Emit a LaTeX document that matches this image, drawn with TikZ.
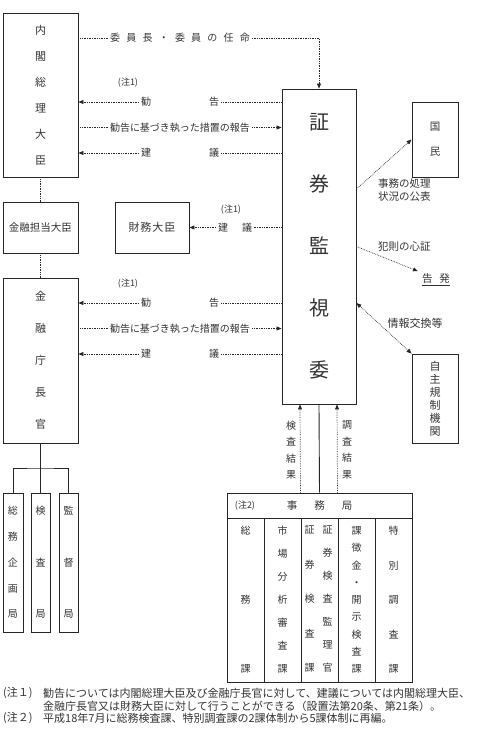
\documentclass[tikz,border=0pt]{standalone}
\usepackage{fontspec}
\setmainfont{Noto Sans CJK JP}
\usetikzlibrary{arrows.meta}
\colorlet{ink}{black!80}
\colorlet{edge}{black!85}
\newcommand\jg{\hspace{6.2pt}}
\tikzset{
  frame/.style={draw=edge,line width=0.9pt,inner sep=0pt,align=center,text=ink},
  word/.style={inner sep=2pt,text=ink,font=\fontsize{10}{12}\selectfont},
  memo/.style={inner sep=1pt,text=ink,font=\fontsize{9}{10}\selectfont},
  dotlink/.style={draw=edge,densely dotted,line width=0.7pt},
  tree/.style={draw=edge,line width=0.9pt},
  >={Triangle[length=5pt,width=4pt]},
}

\begin{document}
\begin{tikzpicture}[x=1pt,y=-1pt]
      \useasboundingbox (0,0) rectangle (479,732);
      \node [frame,minimum width=75pt,minimum height=164pt,font=\fontsize{11}{26}\selectfont] (pm) at (40.5,95) {内\\閣\\総\\理\\大\\臣};
      \node [frame,minimum width=75pt,minimum height=51pt,font=\fontsize{10.5}{12}\selectfont] (tantou) at (40.5,227.5) {金融担当大臣};
      \node [frame,minimum width=75pt,minimum height=165pt,font=\fontsize{11}{32}\selectfont] (chokan) at (40.5,360.5) {金\\融\\庁\\長\\官};
      \node [frame,minimum width=74pt,minimum height=51pt,font=\fontsize{11}{12}\selectfont] (zaimu) at (152,227.5) {財\hspace{1pt}務\hspace{1pt}大\hspace{1pt}臣};
      \node [frame,minimum width=74pt,minimum height=315pt,font=\fontsize{20}{62}\selectfont] (sec) at (319,246.5) {証\\券\\監\\視\\委};
      \node [frame,minimum width=46pt,minimum height=75pt,font=\fontsize{10.5}{25}\selectfont] (kokumin) at (435,139.5) {国\\民};
      \node [frame,minimum width=46pt,minimum height=89pt,font=\fontsize{11}{13}\selectfont] (jishu) at (435,398.5) {自\\主\\規\\制\\機\\関};
      \foreach \n/\x/\w/\s/\t in {soumu/13/20/25.75/総\\務\\企\\画\\局,kensa/40.5/19/51.5/検\\査\\局,kantoku/68.5/19/51.5/監\\督\\局}
      {
        \node [frame,minimum width=\w,minimum height=139pt,font=\fontsize{10}{\s}\selectfont] (\n) at (\x,562.5) {\t};
      }
      \draw [dotlink] (pm.south) -- (tantou.north);
      \draw [dotlink] (tantou.south) -- (chokan.north);
      \coordinate (fork) at (40.5,468);
      \draw [tree] (chokan.south) -- (kensa.north);
      \draw [tree] (soumu.north) |- (fork) -| (kantoku.north);
      \node [word] (nin) at (180,38) {委\jg 員\jg 長\jg ・\jg 委\jg 員\jg の\jg 任\jg 命};
      \draw [dotlink] (pm.east |- nin) -- (nin.west);
      \draw [dotlink,->] (nin.east) -| (sec.north);
      \foreach \who/\y in {pm/102,chokan/303}
      {
        \node [memo] (note\who) at (128,\y-19) {(注1)};
        \node [word] (kankoku\who) at (180,\y) {勧\hspace{58pt}告};
        \node [word] (houkoku\who) at (180,\y+25.5) {勧告に基づき執った措置の報告};
        \node [word] (kengi\who) at (180,\y+51) {建\hspace{58pt}議};
        \draw [dotlink,->] (kankoku\who.west) -- (\who.east |- kankoku\who);
        \draw [dotlink] (sec.west |- kankoku\who) -- (kankoku\who.east);
        \draw [dotlink] (\who.east |- houkoku\who) -- (houkoku\who.west);
        \draw [dotlink,->] (houkoku\who.east) -- (sec.west |- houkoku\who);
        \draw [dotlink,->] (kengi\who.west) -- (\who.east |- kengi\who);
        \draw [dotlink] (sec.west |- kengi\who) -- (kengi\who.east);
      }
      \node [memo] (notezaimu) at (231,210) {(注1)};
      \node [word] (kengizaimu) at (235,227.5) {建\hspace{14pt}議};
      \draw [dotlink] (sec.west |- kengizaimu) -- (kengizaimu.east);
      \draw [dotlink,->] (kengizaimu.west) -- (zaimu.east);
      \node [word,anchor=west,align=left,font=\fontsize{10.5}{13}\selectfont] (kouhyo) at (376,190.5) {事務の処理\\状況の公表};
      \node [word,anchor=west,font=\fontsize{10.5}{12}\selectfont] (hansoku) at (376,247) {犯則の心証};
      \node [word,font=\fontsize{10.5}{12}\selectfont] (kokuhatsu) at (436,280) {\underline{告\hspace{7pt}発}};
      \node [word,font=\fontsize{11}{12}\selectfont] (jouhou) at (415,323) {情報交換等};
      \draw [dotlink,->] ([yshift=57.5pt]sec.east) -- (kokumin.west);
      \draw [dotlink,->,shorten >=2pt] (sec.east) -- (kokuhatsu.north west);
      \draw [dotlink,<->] ([yshift=-56.5pt]sec.east) -- (jishu.north west);
      \node [frame,minimum width=185pt,minimum height=25pt,font=\fontsize{10.5}{12}\selectfont] (jimu) at (319.5,505.5) {事\hspace{17pt}務\hspace{17pt}局};
      \node [memo] (notejimu) at (245,505.5) {(注2)};
      \foreach \i/\s/\t in {1/69/総\\務\\課,2/23/市\\場\\分\\析\\審\\査\\課,3/12/\relax,4/17.25/課\\徴\\金\\・\\開\\示\\検\\査\\課,5/34.5/特\\別\\調\\査\\課}
      {
        \node [frame,minimum width=37pt,minimum height=164pt,font=\fontsize{10}{\s}\selectfont] (col\i) at (208.5+37*\i,600) {\t};
      }
      \node [word,align=center,font=\fontsize{10}{34.5}\selectfont] (col3a) at (309.5,599) {証\\券\\検\\査\\課};
      \node [word,align=center,font=\fontsize{10}{23}\selectfont] (col3b) at (327.5,599) {証\\券\\検\\査\\監\\理\\官};
      \draw [tree] (sec.south) -- (jimu.north);
      \draw [dotlink,->] ([xshift=-19pt]jimu.north) -- ([xshift=-19pt]sec.south);
      \draw [dotlink,->] ([xshift=18pt]jimu.north) -- ([xshift=18pt]sec.south);
      \node [word,align=center,font=\fontsize{10}{16.5}\selectfont] (kensakekka) at (291,450) {検\\査\\結\\果};
      \node [word,align=center,font=\fontsize{10}{16.5}\selectfont] (chousakekka) at (347,450) {調\\査\\結\\果};
      \node [word,anchor=west,font=\fontsize{11}{12}\selectfont] (fn1tag) at (1,693) {(注１)};
      \node [word,anchor=west,font=\fontsize{11}{12}\selectfont] (fn1a) at (41,693) {勧告については内閣総理大臣及び金融庁長官に対して、建議については内閣総理大臣、};
      \node [word,anchor=west,font=\fontsize{11}{12}\selectfont] (fn1b) at (41,706) {金融庁長官又は財務大臣に対して行うことができる（設置法第20条、第21条）。};
      \node [word,anchor=west,font=\fontsize{11}{12}\selectfont] (fn2tag) at (1,718) {(注２)};
      \node [word,anchor=west,font=\fontsize{11}{12}\selectfont] (fn2) at (41,718) {平成18年7月に総務検査課、特別調査課の2課体制から5課体制に再編。};
    \end{tikzpicture}
\end{document}
